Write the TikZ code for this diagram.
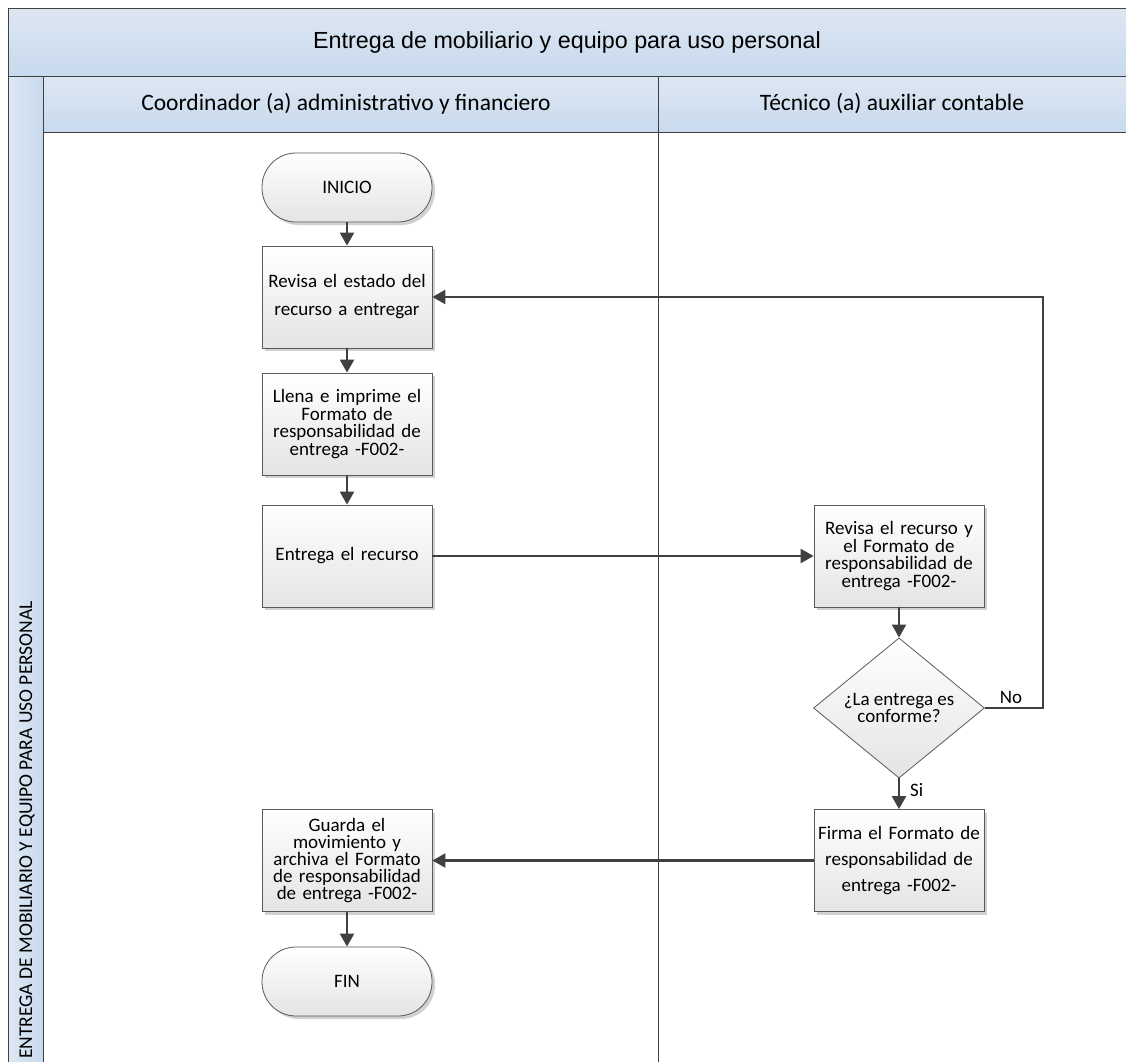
\documentclass[tikz,border=0pt]{standalone}
\usepackage{fontspec}
\setmainfont{Carlito}
\newfontfamily\arialf{Liberation Sans}
\usetikzlibrary{arrows.meta,shapes.geometric,shadows}
\definecolor{hdtop}{HTML}{DDE7F2}
\definecolor{hdbot}{HTML}{C8DAEE}
\definecolor{frameln}{HTML}{404040}
\definecolor{boxln}{HTML}{5A5A5A}
\definecolor{boxbot}{HTML}{E4E4E4}
\definecolor{arr}{HTML}{404040}
\tikzset{
  band/.style={draw=frameln, line width=1pt, top color=hdtop, bottom color=hdbot},
  procbox/.style={draw=boxln, line width=0.8pt, rectangle, minimum width=170pt, minimum height=102pt,
    top color=white, bottom color=boxbot, align=center, text width=168pt, inner sep=0pt,
    font=\fontsize{19}{17.5}\selectfont,
    drop shadow={shadow xshift=3pt, shadow yshift=-3pt, fill=black!18, opacity=1}},
  termbox/.style={draw=boxln, line width=0.8pt, rectangle, rounded corners=34pt, minimum width=170pt, minimum height=69pt,
    top color=white, bottom color=boxbot, align=center, inner sep=0pt, font=\fontsize{19}{18}\selectfont,
    drop shadow={shadow xshift=3pt, shadow yshift=-3pt, fill=black!18, opacity=1}},
  decbox/.style={draw=boxln, line width=0.8pt, diamond, minimum width=171pt, minimum height=136pt, inner sep=0pt,
    top color=white, bottom color=boxbot, align=center, font=\fontsize{19}{15}\selectfont},
  flow/.style={draw=arr, line width=2.2pt, -{Triangle[length=13pt,width=14pt]}},
  lbl/.style={font=\fontsize{19}{18}\selectfont, inner sep=0pt}
}
\begin{document}
\begin{tikzpicture}[x=1pt,y=-1pt]
\useasboundingbox (0,0) rectangle (1126,1061);
\clip (0,0) rectangle (1126,1061);
\fill[white] (0,0) rectangle (1126,1061);
% frame
\draw[band] (8,8) rectangle (1140,76);
\draw[band, left color=hdtop, right color=hdbot] (8,76) rectangle (43,1075);
\draw[band] (43,76) rectangle (1140,132);
\draw[frameln, line width=1pt] (43,132) rectangle (1140,1075);
\draw[frameln, line width=1pt] (658,76) -- (658,1075);
\node[font=\arialf\fontsize{23.3}{26}\selectfont] (title) at (567,42) {Entrega de mobiliario y equipo para uso personal};
\node[font=\fontsize{23.5}{26}\selectfont] (lane1) at (346,104) {Coordinador (a) administrativo y financiero};
\node[font=\fontsize{23.5}{26}\selectfont] (lane2) at (892,104) {Técnico (a) auxiliar contable};
\node[font=\fontsize{19.5}{20}\selectfont, rotate=90, anchor=west, inner sep=0pt] (pool) at (27,1059) {ENTREGA DE MOBILIARIO Y EQUIPO PARA USO PERSONAL};
% nodes
\node[termbox] (ini) at (347,187.5) {INICIO};
\node[procbox, font=\fontsize{19}{28}\selectfont] (rev) at (347,297) {Revisa el estado del\\recurso a entregar};
\node[procbox] (llena) at (347,424) {Llena e imprime el\\Formato de\\responsabilidad de\\entrega -F002-};
\node[procbox] (ent) at (347,556) {Entrega el recurso};
\node[procbox] (revr) at (899,556) {Revisa el recurso y\\el Formato de\\responsabilidad de\\entrega -F002-};
\node[decbox] (dec) at (899,708) {¿La entrega es\\conforme?};
\node[procbox, font=\fontsize{19}{26}\selectfont] (firma) at (899,860.5) {Firma el Formato de\\responsabilidad de\\entrega -F002-};
\node[procbox, font=\fontsize{19}{17}\selectfont] (guarda) at (347,860.5) {Guarda el\\movimiento y\\archiva el Formato\\de responsabilidad\\de entrega -F002-};
\node[termbox] (fin) at (347,981.5) {FIN};
\coordinate (loopA) at (1043,708);
\coordinate (loopB) at (1043,297);
% connectors
\draw[flow] (ini) -- (rev);
\draw[flow] (rev) -- (llena);
\draw[flow] (llena) -- (ent);
\draw[flow] (ent) -- (revr);
\draw[flow] (revr) -- (dec);
\draw[flow] (dec.east) -- (loopA) -- (loopB) -- (rev.east);
\draw[flow] (dec) -- (firma);
\draw[flow] (firma.west) -- (guarda.east);
\draw[flow] (guarda) -- (fin);
\node[lbl] (no) at (1011,697) {No};
\node[lbl, anchor=west] (si) at (910,790) {Si};
\end{tikzpicture}
\end{document}
